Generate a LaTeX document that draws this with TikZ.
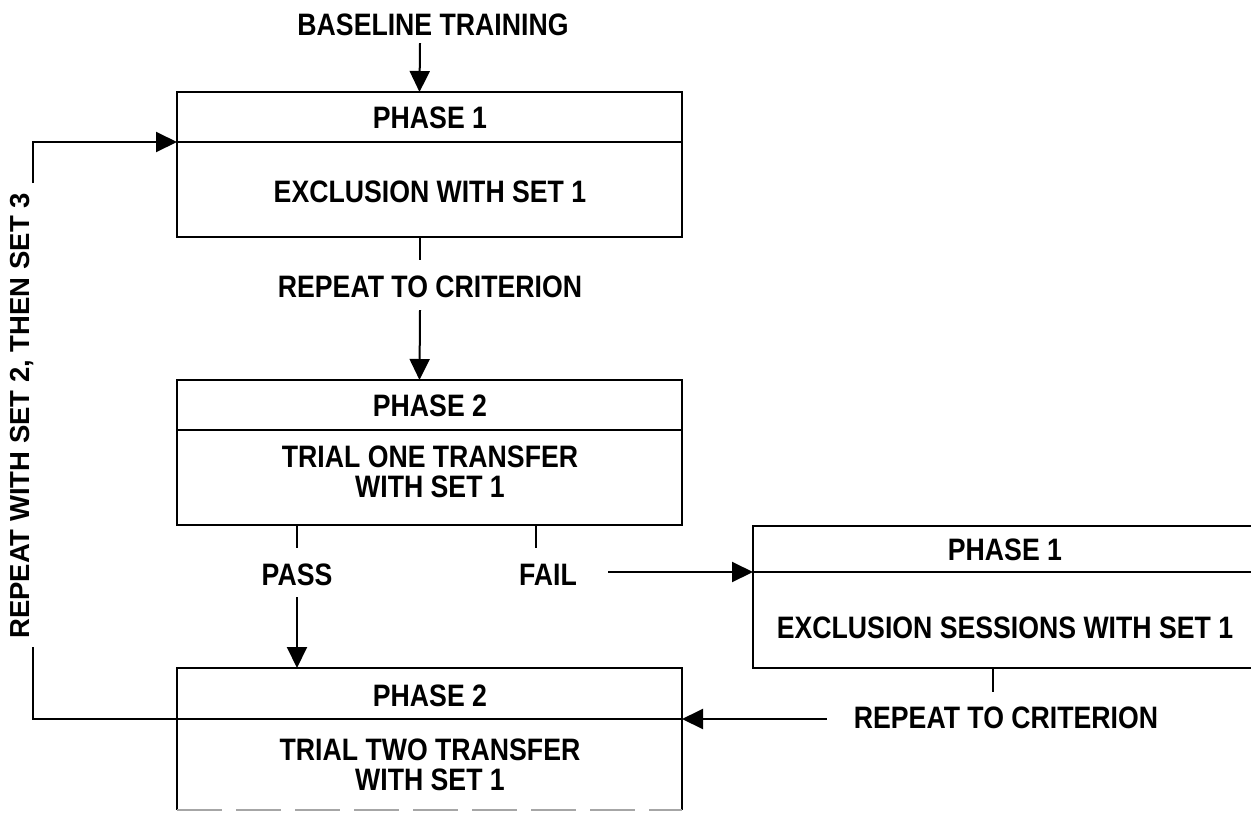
\documentclass[tikz,border=0pt]{standalone}
\usepackage{fontspec}
\setmainfont{Liberation Sans}
\newfontfamily\narrowsans[FakeStretch=0.86]{Liberation Sans}
\usetikzlibrary{arrows.meta,calc}
\tikzset{
  lab/.style={font=\narrowsans\bfseries\fontsize{31}{30}\selectfont, align=center, inner sep=0pt},
  rotlab/.style={font=\bfseries\fontsize{27.5}{30}\selectfont, inner sep=0pt, rotate=90},
  box/.style={draw, line width=2pt, inner sep=0pt, outer sep=0pt, anchor=north west},
  ln/.style={line width=2pt},
  arr/.style={line width=2pt, -{Triangle[length=21pt,width=20pt]}}
}
\begin{document}
\begin{tikzpicture}[x=1pt,y=-1pt]
\useasboundingbox (0,0) rectangle (1251,812);
% boxes
\node[box, minimum width=505pt, minimum height=145pt] (b1) at (177,92) {};
\node[box, minimum width=505pt, minimum height=145pt] (b2) at (177,380) {};
\node[box, draw=none, minimum width=505pt, minimum height=142pt] (b3) at (177,668) {};
\node[box, minimum width=512pt, minimum height=142pt] (b4) at (753,526) {};
\draw[ln] (b3.south west) -- (b3.north west) -- (b3.north east) -- (b3.south east);
\draw[line width=1.5pt, black!35, dash pattern=on 45pt off 14pt] (b3.south west) -- (b3.south east);
% dividers
\coordinate (d1w) at ($(b1.north west)+(0,50)$);
\coordinate (d1e) at ($(b1.north east)+(0,50)$);
\coordinate (d2w) at ($(b2.north west)+(0,50)$);
\coordinate (d2e) at ($(b2.north east)+(0,50)$);
\coordinate (d3w) at ($(b3.north west)+(0,51)$);
\coordinate (d3e) at ($(b3.north east)+(0,51)$);
\coordinate (d4w) at ($(b4.north west)+(0,46)$);
\coordinate (d4e) at ($(b4.north east)+(0,46)$);
\draw[ln] (d1w) -- (d1e);
\draw[ln] (d2w) -- (d2e);
\draw[ln] (d3w) -- (d3e);
\draw[ln] (d4w) -- (d4e);
% texts
\node[lab] (bt) at (433,25) {BASELINE TRAINING};
\node[lab] (p1) at (430,118) {PHASE 1};
\node[lab] (e1) at (430,192) {EXCLUSION WITH SET 1};
\node[lab] (r1) at (430,287) {REPEAT TO CRITERION};
\node[lab] (p2) at (430,406) {PHASE 2};
\node[lab] (t1) at (430,472) {TRIAL ONE TRANSFER\\WITH SET 1};
\node[lab] (pass) at (297,575) {PASS};
\node[lab] (fail) at (548,575) {FAIL};
\node[lab] (p4) at (1005,550) {PHASE 1};
\node[lab] (e4) at (1005,628) {EXCLUSION SESSIONS WITH SET 1};
\node[lab] (r4) at (1006,718) {REPEAT TO CRITERION};
\node[lab] (p3) at (430,696) {PHASE 2};
\node[lab] (t3) at (430,765) {TRIAL TWO TRANSFER\\WITH SET 1};
\node[rotlab] (loop) at (22,416) {REPEAT WITH SET 2, THEN SET 3};
\coordinate (loopbot) at (33,647);
\coordinate (looptop) at (33,183);
% connectors
\draw[arr] ([xshift=-13pt,yshift=-7pt]bt.south) -- ([xshift=-10pt]b1.north);
\draw[ln] ([xshift=-10pt]b1.south) -- ++(0,23);
\draw[arr] ([xshift=-10pt,yshift=-12pt]r1.south) -- ([xshift=-10pt]b2.north);
\draw[ln] (pass.north |- b2.south) -- ([yshift=16pt]pass.north);
\draw[arr] ([yshift=-11pt]pass.south) -- (pass.south |- b3.north);
\draw[ln] ($(fail.north |- b2.south)+(-12,0)$) -- ([xshift=-12pt,yshift=16pt]fail.north);
\draw[arr] ($(fail.east |- d4w)+(31,0)$) -- (d4w);
\draw[ln] ($(r4.north |- b4.south)+(-13,0)$) -- ([xshift=-13pt,yshift=15pt]r4.north);
\draw[arr] ($(r4.west |- d3e)+(-27,0)$) -- (d3e);
\draw[ln] (loopbot) |- (d3w);
\draw[arr] (looptop) |- (d1w);
\end{tikzpicture}
\end{document}
